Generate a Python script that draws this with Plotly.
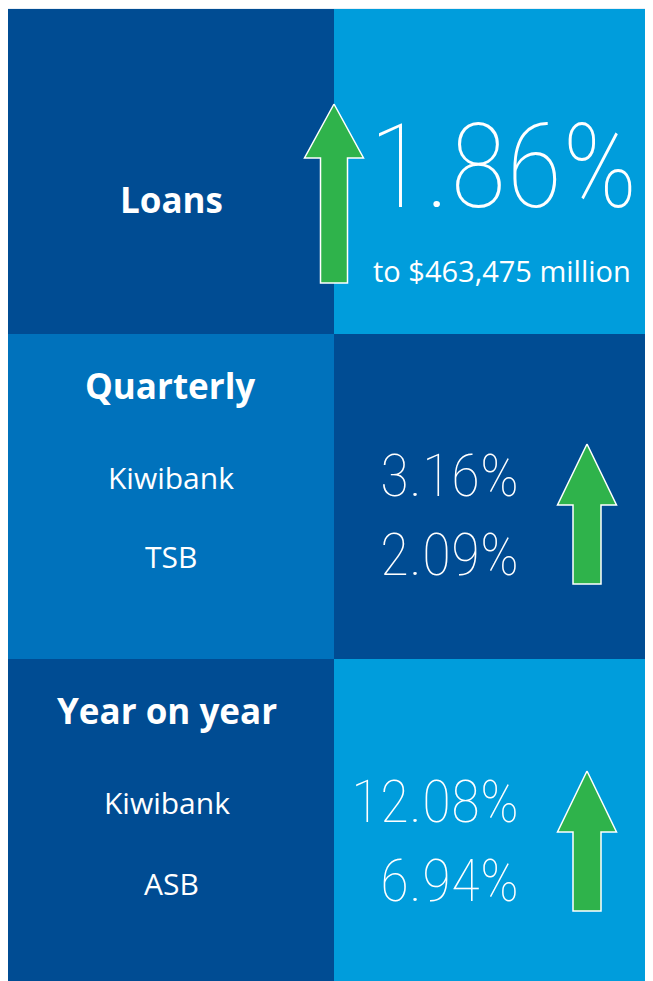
import plotly.graph_objects as go

# ---- data ----
sections = ["Loans", "Quarterly", "Year on year"]
headline_value = "1.86%"
headline_note = "to $463,475 million"
quarterly_banks = ["Kiwibank", "TSB"]
quarterly_values = ["3.16%", "2.09%"]
yoy_banks = ["Kiwibank", "ASB"]
yoy_values = ["12.08%", "6.94%"]

# ---- layout / styling ----
W, H = 653, 981          # window size
OFF = 8                  # page body margin
BG = "#e9eff6"
DARK = "#004c93"
LIGHT = "#009ddc"
MID = "#0072bc"
GREEN = "#2fb34b"

col_x = [8, 334, 653]
row_y = [9, 334, 659, 981]
tile_colors = [[DARK, LIGHT], [MID, DARK], [DARK, LIGHT]]

# arrows: (centre x, tip y, shoulder y, bottom y, head half-width, shaft half-width)
arrows = [(334, 104, 158, 283, 29.5, 13.5),
          (587, 444, 505, 584, 29.5, 14),
          (587, 771, 832, 911, 29.5, 14)]

LABEL_FONT = "Open Sans, DejaVu Sans, sans-serif"
NUM_FONT = "Roboto Condensed, Liberation Sans Narrow, Roboto, sans-serif"

fig = go.Figure()

shapes = []
for r in range(3):
    for c in range(2):
        shapes.append(dict(type="rect", xref="x", yref="y",
                           x0=col_x[c], x1=col_x[c + 1], y0=row_y[r], y1=row_y[r + 1],
                           fillcolor=tile_colors[r][c], line=dict(width=0), layer="below"))

for cx, ty, sy, by, hw, sw in arrows:
    xs = [cx, cx + hw, cx + sw, cx + sw, cx - sw, cx - sw, cx - hw, cx]
    ys = [ty, sy, sy, by, by, sy, sy, ty]
    fig.add_trace(go.Scatter(x=xs, y=ys, mode="lines", fill="toself",
                             fillcolor=GREEN, line=dict(color="white", width=1.5),
                             hoverinfo="skip", showlegend=False))

ann = []
def txt(s, x, y, size, bold=False, family=LABEL_FONT, weight=None, xanchor="center"):
    f = dict(family=family, size=size, color="white")
    if bold:
        f["weight"] = "bold"
    if weight is not None:
        f["weight"] = weight
    ann.append(dict(text=s, x=x, y=y, xref="x", yref="y", showarrow=False,
                    xanchor=xanchor, yanchor="middle", font=f))

# section headings
txt(sections[0], 171, 199, 35, bold=True)
txt(sections[1], 170, 385, 35, bold=True)
txt(sections[2], 167, 710, 35, bold=True)

# headline
txt(headline_value, 503, 167, 116, family=NUM_FONT, weight=100)
txt(headline_note, 502, 270, 29)

# quarterly
txt(quarterly_banks[0], 171, 477, 30)
txt(quarterly_banks[1], 171, 556, 30)
txt(quarterly_values[0], 521, 475, 60, family=NUM_FONT, weight=100, xanchor="right")
txt(quarterly_values[1], 521, 554, 60, family=NUM_FONT, weight=100, xanchor="right")

# year on year
txt(yoy_banks[0], 167, 802, 30)
txt(yoy_banks[1], 171, 883, 30)
txt(yoy_values[0], 521, 801, 60, family=NUM_FONT, weight=100, xanchor="right")
txt(yoy_values[1], 521, 880, 60, family=NUM_FONT, weight=100, xanchor="right")

fig.update_layout(
    autosize=False,
    width=W - OFF, height=H - OFF, margin=dict(l=0, r=0, t=0, b=0),
    paper_bgcolor=BG, plot_bgcolor=BG,
    xaxis=dict(range=[OFF, W], visible=False, fixedrange=True),
    yaxis=dict(range=[H, OFF], visible=False, fixedrange=True),
    shapes=shapes, annotations=ann, showlegend=False,
)

fig.write_html("out.html", config={"displayModeBar": False, "responsive": False})
